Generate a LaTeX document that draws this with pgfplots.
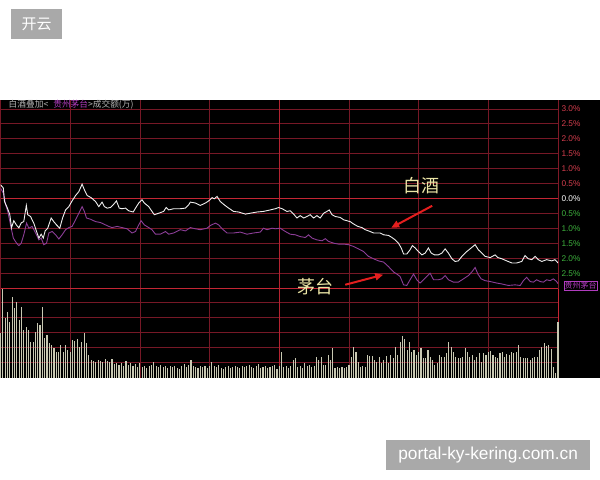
\documentclass[border=0pt]{standalone}
\usepackage{pgfplots}
\pgfplotsset{compat=1.18}
\usetikzlibrary{arrows.meta}
\usepackage{fontspec}
\setmainfont{Liberation Sans}
\newfontfamily\cjk{Noto Sans CJK SC}

\definecolor{dimred}{RGB}{118,24,38}
\definecolor{brightred}{RGB}{196,38,52}
\definecolor{up}{RGB}{214,62,78}
\definecolor{dn}{RGB}{62,178,62}
\definecolor{baijiu}{RGB}{240,240,240}
\definecolor{maotai}{RGB}{140,62,152}
\definecolor{volbar}{RGB}{200,200,178}
\definecolor{hdrgray}{RGB}{180,180,180}
\definecolor{hdrpurple}{RGB}{176,60,190}
\definecolor{annoyellow}{RGB}{236,230,166}
\definecolor{arrowred}{RGB}{228,30,30}
\definecolor{boxgray}{RGB}{169,169,169}

\begin{document}
\begin{tikzpicture}
\begin{scope}[x=1pt,y=-1pt]
  \useasboundingbox (0,0) rectangle (600,480);
  \fill[white] (0,0) rectangle (600,480);
  \fill[black] (0,100) rectangle (600,378);
\end{scope}

% price panel: change in percent against minutes of the trading day
\begin{axis}[
  at={(0pt,-289pt)}, anchor=south west,
  scale only axis, width=558pt, height=189pt,
  xmin=0, xmax=240, ymin=-3, ymax=3.3,
  axis line style={draw=none},
  major tick length=0pt,
  tick label style={overlay},
  xtick={0,30,...,240}, xticklabels={},
  ytick={-2.5,-2,...,3},
  yticklabel pos=right,
  yticklabel style={anchor=west, font=\fontsize{8.3}{8.3}\selectfont},
  yticklabels={
    \textcolor{dn}{\mbox{2.5\%}},\textcolor{dn}{\mbox{2.0\%}},\textcolor{dn}{\mbox{1.5\%}},
    \textcolor{dn}{\mbox{1.0\%}},\textcolor{dn}{\mbox{0.5\%}},\textcolor{white}{\mbox{0.0\%}},
    \textcolor{up}{\mbox{0.5\%}},\textcolor{up}{\mbox{1.0\%}},\textcolor{up}{\mbox{1.5\%}},
    \textcolor{up}{\mbox{2.0\%}},\textcolor{up}{\mbox{2.5\%}},\textcolor{up}{\mbox{3.0\%}}},
  xmajorgrids, ymajorgrids,
  major grid style={dimred, line width=0.8pt},
]
  \draw[brightred, line width=1.1pt] (axis cs:0,0) -- (axis cs:240,0);
  \draw[brightred, line width=1.1pt] (axis cs:0,-3) -- (axis cs:240,-3);
  \draw[brightred, line width=0.9pt] (axis cs:240,-3) -- (axis cs:240,3.3);
  \draw[brightred!80!dimred, line width=0.9pt] (axis cs:120,-3) -- (axis cs:120,3.3);

  % 茅台
  \addplot[maotai, line width=0.9pt] coordinates {
    (0,0.36) (1.2,0.19) (2.2,-0.20) (3.1,-0.42) (4.3,-0.87) (5.5,-1.31)
    (6.9,-1.48) (7.9,-1.56) (8.9,-1.48) (10.0,-1.20) (11.2,-0.81) (12.2,-0.98)
    (13.6,-0.92) (15.1,-1.14) (16.5,-1.37) (17.5,-1.31) (18.6,-1.53) (19.8,-1.48)
    (20.8,-1.14) (22.2,-1.09) (23.7,-1.20) (25.1,-1.34) (26.5,-1.20) (28.0,-1.03)
    (29.4,-0.96) (30.8,-0.92) (32.3,-0.70) (33.7,-0.48) (35.1,-0.26) (36.1,-0.42)
    (37.0,-0.64) (38.7,-0.68) (40.9,-0.76) (43.0,-0.79) (45.2,-0.87) (46.6,-0.92)
    (48.0,-0.96) (50.2,-0.92) (52.3,-0.96) (54.5,-1.00) (56.6,-1.14) (58.1,-1.09)
    (59.5,-0.87) (60.5,-0.73) (61.9,-0.87) (63.8,-0.96) (65.2,-1.03) (66.7,-1.18)
    (68.8,-1.18) (71.0,-1.09) (72.4,-1.18) (74.5,-1.14) (77.4,-1.03) (79.6,-1.07)
    (81.7,-0.96) (83.9,-1.00) (86.0,-1.03) (88.9,-0.98) (90.3,-0.89) (92.5,-0.81)
    (93.9,-0.87) (95.4,-1.00) (97.5,-1.14) (100.3,-1.14) (103.2,-1.11) (106.1,-1.18)
    (108.9,-1.14) (111.8,-1.11) (113.2,-0.98) (114.7,-1.03) (116.9,-0.98) (118.3,-1.00)
    (120.4,-0.98) (122.6,-1.09) (124.7,-1.18) (126.9,-1.20) (129.0,-1.26) (131.2,-1.29)
    (132.6,-1.20) (134.1,-1.31) (136.2,-1.37) (138.4,-1.40) (139.8,-1.33) (141.2,-1.42)
    (143.4,-1.48) (145.5,-1.51) (147.7,-1.51) (149.8,-1.53) (152.0,-1.59) (154.1,-1.67)
    (156.3,-1.76) (158.4,-1.92) (160.6,-2.00) (162.7,-2.07) (164.9,-2.11) (167.0,-2.26)
    (169.2,-2.44) (170.6,-2.51) (172.0,-2.59) (173.5,-2.87) (174.9,-2.89) (176.3,-2.70)
    (177.8,-2.51) (179.2,-2.70) (180.6,-2.81) (182.1,-2.70) (183.5,-2.59) (184.9,-2.48)
    (186.4,-2.70) (188.5,-2.70) (190.0,-2.67) (191.4,-2.56) (192.8,-2.70) (195.0,-2.78)
    (197.1,-2.78) (199.3,-2.67) (201.4,-2.56) (202.9,-2.44) (204.3,-2.29) (205.5,-2.51)
    (206.9,-2.67) (208.6,-2.73) (210.8,-2.76) (213.6,-2.81) (215.8,-2.84) (218.6,-2.89)
    (221.5,-2.87) (223.7,-2.89) (225.1,-2.73) (226.5,-2.62) (228.0,-2.76) (229.4,-2.78)
    (230.8,-2.70) (232.3,-2.76) (233.7,-2.78) (235.1,-2.70) (236.6,-2.73) (238.0,-2.67)
    (239.4,-2.76) (240,-2.83)
  };

  % 白酒
  \addplot[baijiu, line width=0.9pt] coordinates {
    (0,0.47) (1.2,0.36) (1.7,-0.09) (2.9,-0.30) (4.0,-0.53) (4.7,-0.97)
    (5.7,-0.73) (6.8,-0.87) (7.9,-0.97) (8.9,-0.80) (10.0,-0.76) (11.1,-0.22)
    (11.7,-0.53) (12.9,-0.59) (14.3,-0.81) (15.5,-1.09) (16.5,-1.31) (17.5,-1.18)
    (18.4,-1.31) (19.2,-1.07) (20.3,-0.98) (21.8,-0.64) (22.9,-0.76) (24.1,-0.87)
    (25.5,-0.98) (26.7,-0.64) (28.0,-0.37) (29.4,-0.26) (30.8,-0.07) (32.3,0.11)
    (33.7,0.24) (35.1,0.49) (36.1,0.30) (37.3,0.11) (39.0,0.04) (40.9,-0.09)
    (42.3,-0.26) (43.7,-0.11) (44.7,-0.26) (45.9,-0.31) (47.3,-0.29) (48.5,-0.20)
    (49.9,-0.07) (51.1,-0.31) (52.3,-0.33) (53.8,-0.31) (55.2,-0.40) (57.1,-0.44)
    (58.1,-0.31) (59.5,-0.14) (60.9,-0.03) (61.9,-0.14) (63.8,-0.26) (65.2,-0.42)
    (66.2,-0.53) (68.1,-0.48) (70.2,-0.42) (71.3,-0.29) (72.4,-0.37) (74.5,-0.33)
    (77.4,-0.33) (79.6,-0.31) (81.0,-0.20) (81.7,-0.11) (83.9,-0.14) (86.0,-0.22)
    (88.2,-0.14) (89.6,-0.07) (91.1,0.04) (92.0,0.00) (93.2,0.08) (94.6,-0.09)
    (96.3,-0.20) (98.2,-0.31) (100.3,-0.42) (102.5,-0.44) (105.4,-0.51) (107.5,-0.48)
    (110.4,-0.44) (113.2,-0.42) (116.1,-0.37) (118.3,-0.33) (119.7,-0.29) (121.2,-0.33)
    (123.3,-0.42) (124.7,-0.40) (126.2,-0.51) (127.6,-0.64) (129.0,-0.56) (130.5,-0.64)
    (131.9,-0.59) (133.3,-0.53) (134.8,-0.64) (136.2,-0.56) (137.6,-0.64) (139.1,-0.48)
    (140.5,-0.42) (141.5,-0.37) (142.7,-0.53) (144.1,-0.59) (146.2,-0.62) (147.7,-0.70)
    (149.1,-0.73) (150.5,-0.76) (152.0,-0.84) (153.8,-0.92) (155.6,-0.96) (157.0,-1.03)
    (159.1,-1.09) (160.6,-1.14) (162.0,-1.14) (163.4,-1.14) (164.9,-1.20) (167.0,-1.22)
    (168.5,-1.29) (169.9,-1.37) (171.3,-1.48) (172.5,-1.64) (173.5,-1.84) (174.9,-1.84)
    (176.3,-1.70) (177.3,-1.56) (178.5,-1.64) (179.9,-1.76) (181.4,-1.87) (182.8,-1.81)
    (184.2,-1.64) (185.4,-1.81) (186.8,-1.87) (188.5,-1.87) (190.0,-1.81) (191.4,-1.67)
    (192.8,-1.81) (194.3,-2.00) (195.7,-2.09) (197.1,-2.07) (198.6,-1.92) (200.7,-1.76)
    (202.9,-1.62) (204.3,-1.53) (205.7,-1.70) (207.2,-1.81) (208.6,-1.92) (210.8,-1.96)
    (212.9,-1.87) (214.1,-1.96) (215.8,-2.00) (217.9,-2.07) (220.1,-2.14) (222.2,-2.14)
    (224.4,-2.09) (225.8,-1.89) (227.2,-2.00) (228.7,-2.03) (230.1,-1.92) (231.5,-2.03)
    (233.0,-2.09) (235.1,-2.03) (237.3,-2.07) (238.7,-2.03) (240.0,-2.14)
  };
\end{axis}

% volume panel: one bar per minute
\begin{axis}[
  at={(0pt,-378pt)}, anchor=south west,
  scale only axis, width=558pt, height=89pt,
  xmin=0, xmax=240, ymin=0, ymax=89,
  axis line style={draw=none},
  major tick length=0pt,
  tick label style={overlay},
  xtick={0,30,...,240}, xticklabels={},
  ytick={15,30,45,60,75}, yticklabels={},
  xmajorgrids, ymajorgrids,
  major grid style={dimred, line width=0.8pt},
  clip=false,
]
  \draw[brightred!80!dimred, line width=0.9pt] (axis cs:120,0) -- (axis cs:120,89);
  \draw[brightred, line width=0.9pt] (axis cs:240,0) -- (axis cs:240,89);
  \addplot[ycomb, volbar, line width=1.1pt] coordinates {
    (0,45) (1,89) (2,60) (3,66) (4,56) (5,81) (6,70) (7,76) (8,58) (9,71)
    (10,48) (11,51) (12,48) (13,36) (14,36) (15,46) (16,55) (17,53) (18,71) (19,40)
    (20,43) (21,35) (22,33) (23,30) (24,26) (25,26) (26,33) (27,26) (28,33) (29,28)
    (30,26) (31,38) (32,37) (33,39) (34,31) (35,36) (36,45) (37,35) (38,23) (39,18)
    (40,17) (41,16) (42,18) (43,17) (44,16) (45,19) (46,17) (47,16) (48,19) (49,14)
    (50,15) (51,13) (52,15) (53,12) (54,17) (55,13) (56,15) (57,12) (58,14) (59,11)
    (60,15) (61,11) (62,12) (63,10) (64,12) (65,13) (66,16) (67,12) (68,11) (69,13)
    (70,11) (71,12) (72,10) (73,12) (74,11) (75,12) (76,10) (77,9) (78,12) (79,14)
    (80,11) (81,13) (82,18) (83,12) (84,11) (85,10) (86,12) (87,11) (88,12) (89,10)
    (90,12) (91,16) (92,12) (93,11) (94,13) (95,10) (96,9) (97,11) (98,12) (99,10)
    (100,11) (101,12) (102,11) (103,10) (104,12) (105,11) (106,12) (107,13) (108,11) (109,10)
    (110,12) (111,14) (112,10) (113,11) (114,12) (115,10) (116,11) (117,12) (118,13) (119,9)
    (120,12) (121,26) (122,11) (123,12) (124,10) (125,12) (126,18) (127,20) (128,11) (129,12)
    (130,10) (131,15) (132,12) (133,13) (134,11) (135,12) (136,21) (137,18) (138,21) (139,13)
    (140,13) (141,23) (142,18) (143,30) (144,10) (145,11) (146,10) (147,11) (148,10) (149,11)
    (150,13) (151,21) (152,31) (153,26) (154,16) (155,11) (156,12) (157,11) (158,23) (159,22)
    (160,22) (161,18) (162,16) (163,21) (164,15) (165,18) (166,22) (167,15) (168,23) (169,20)
    (170,31) (171,23) (172,36) (173,42) (174,39) (175,28) (176,36) (177,26) (178,28) (179,23)
    (180,26) (181,30) (182,20) (183,20) (184,28) (185,21) (186,18) (187,13) (188,15) (189,23)
    (190,21) (191,21) (192,25) (193,36) (194,31) (195,26) (196,21) (197,20) (198,20) (199,21)
    (200,30) (201,26) (202,21) (203,23) (204,18) (205,21) (206,25) (207,16) (208,25) (209,23)
    (210,26) (211,27) (212,23) (213,21) (214,20) (215,25) (216,26) (217,21) (218,24) (219,23)
    (220,26) (221,25) (222,26) (223,33) (224,21) (225,20) (226,20) (227,20) (228,18) (229,20)
    (230,21) (231,21) (232,28) (233,31) (234,35) (235,32) (236,33) (237,29) (238,11) (239,5)
    (240,56)
  };
\end{axis}

\begin{scope}[x=1pt,y=-1pt]
  % header of the chart
  \node[anchor=west, inner sep=0pt, font=\cjk\fontsize{8.7}{8.7}\selectfont] at (8,105)
    {\textcolor{hdrgray}{白酒叠加<}\hspace{5pt}\textcolor{hdrpurple}{贵州茅台}\textcolor{hdrgray}{>成交额(万)}};
  % name tag at the right end of the 茅台 line
  \node[draw=hdrpurple, fill=black, text=hdrpurple, inner sep=0.6pt,
        font=\cjk\fontsize{8}{8}\selectfont] at (580.5,286) {贵州茅台};

  % annotations
  \node[text=annoyellow, font=\cjk\fontsize{18}{18}\selectfont] at (421,186) {白酒};
  \draw[arrowred, line width=2pt, -{Triangle[length=8pt,width=7pt]}] (432,206) -- (391,228);
  \node[text=annoyellow, font=\cjk\fontsize{18}{18}\selectfont] at (315,287) {茅台};
  \draw[arrowred, line width=2pt, -{Triangle[length=8pt,width=7pt]}] (345,285) -- (383,275);

  % watermarks
  \node[fill=boxgray, text=white, minimum width=51.7pt, minimum height=30pt, inner sep=0pt,
        font=\cjk\fontsize{15}{15}\selectfont] at (36,24.5) {开云};
  \node[fill=boxgray, text=white, minimum width=204pt, minimum height=30pt, inner sep=0pt,
        font=\fontsize{17.3}{17.3}\selectfont] at (488,455) {portal-ky-kering.com.cn};
\end{scope}
\end{tikzpicture}
\end{document}
